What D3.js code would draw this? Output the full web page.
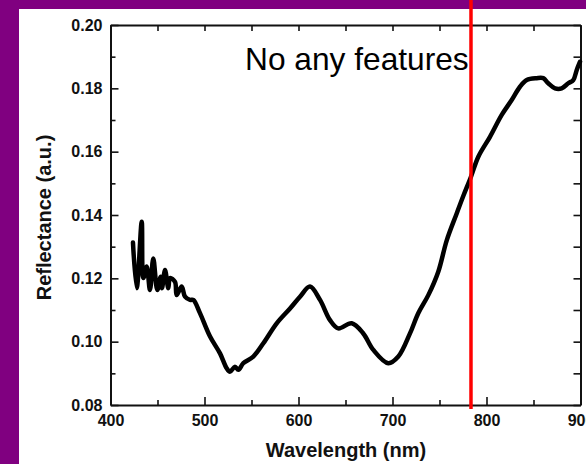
<!DOCTYPE html>
<html>
<head>
<meta charset="utf-8">
<script src="https://cdn.jsdelivr.net/npm/d3@7"></script>
<style>
  html, body { margin: 0; padding: 0; background: #800080; }
  svg { display: block; }
</style>
</head>
<body>
<svg id="chart" width="586" height="464"></svg>
<script>
// ---- data ----
const wavelength = [423.9, 427.9, 433.2, 434.9, 438.5, 442.0, 445.5, 449.8, 453.4, 454.8,
  458.0, 461.5, 463.3, 468.6, 470.4, 475.7, 479.3, 484.6, 488.1, 495.2,
  505.9, 516.5, 523.6, 527.1, 532.4, 536.0, 541.3, 551.9, 562.6, 576.8,
  591.0, 601.6, 612.2, 622.9, 633.5, 642.3, 656.6, 668.9, 679.6, 695.5,
  706.2, 718.6, 727.4, 738.1, 748.7, 757.7, 768.3, 775.3, 783.5, 791.3,
  803.7, 816.2, 826.8, 835.6, 842.8, 853.4, 860.4, 865.7, 872.9, 880.0,
  887.0, 892.3, 896.0, 899.5];
const reflectance = [0.1313, 0.1169, 0.1379, 0.1201, 0.1237, 0.1163, 0.1263, 0.1163, 0.1205, 0.1169,
  0.1226, 0.1169, 0.1201, 0.1189, 0.1147, 0.1174, 0.1142, 0.1132, 0.1132, 0.1090,
  0.1016, 0.0963, 0.0916, 0.0905, 0.0921, 0.0911, 0.0932, 0.0953, 0.0995, 0.1058,
  0.1105, 0.1142, 0.1174, 0.1132, 0.1068, 0.1042, 0.1058, 0.1026, 0.0974, 0.0932,
  0.0953, 0.1026, 0.1090, 0.1147, 0.1221, 0.1320, 0.1405, 0.1460, 0.1521, 0.1584,
  0.1647, 0.1716, 0.1763, 0.1805, 0.1826, 0.1832, 0.1832, 0.1816, 0.1800, 0.1800,
  0.1816, 0.1826, 0.1858, 0.1884];
const xTickValues = [400, 500, 600, 700, 800, 900];
const xMinorTickValues = [450, 550, 650, 750, 850];
const yTickValues = [0.08, 0.10, 0.12, 0.14, 0.16, 0.18, 0.20];
const yMinorTickValues = [0.09, 0.11, 0.13, 0.15, 0.17, 0.19];
const markerWavelength = 783.5;
const annotationText = "No any features";
const xLabel = "Wavelength (nm)";
const yLabel = "Reflectance (a.u.)";

// ---- layout ----
const W = 586, H = 464;
const plot = { left: 110.5, right: 580.5, top: 25, bottom: 405 };
const svg = d3.select("#chart");

svg.append("rect").attr("x", 0).attr("y", 0).attr("width", W).attr("height", H).attr("fill", "#800080");
svg.append("rect").attr("x", 19).attr("y", 9).attr("width", W - 19).attr("height", H - 9).attr("fill", "#ffffff");

const x = d3.scaleLinear().domain([400, 900]).range([plot.left, plot.right]);
const y = d3.scaleLinear().domain([0.08, 0.20]).range([plot.bottom, plot.top]);

const font = "'Liberation Sans', Arial, Helvetica, sans-serif";

function styleAxis(g) {
  g.selectAll("path.domain").attr("stroke", "#111").attr("stroke-width", 2);
  g.selectAll(".tick line").attr("stroke", "#111").attr("stroke-width", 1.6);
  g.selectAll(".tick text").attr("fill", "#111").attr("font-family", font)
    .attr("font-size", "16px").attr("font-weight", "bold");
}

// bottom axis
const gB = svg.append("g").attr("transform", `translate(0,${plot.bottom})`)
  .call(d3.axisBottom(x).tickValues(xTickValues).tickFormat(d3.format("d"))
    .tickSizeInner(-8).tickSizeOuter(0).tickPadding(10));
styleAxis(gB);
const gBm = svg.append("g").attr("transform", `translate(0,${plot.bottom})`)
  .call(d3.axisBottom(x).tickValues(xMinorTickValues).tickFormat("").tickSizeInner(-5).tickSizeOuter(0));
gBm.select("path.domain").remove(); styleAxis(gBm);

// top axis
const gT = svg.append("g").attr("transform", `translate(0,${plot.top})`)
  .call(d3.axisTop(x).tickValues(xTickValues.concat(xMinorTickValues)).tickFormat("")
    .tickSizeInner(-6).tickSizeOuter(0));
styleAxis(gT);

// left axis
const gL = svg.append("g").attr("transform", `translate(${plot.left},0)`)
  .call(d3.axisLeft(y).tickValues(yTickValues).tickFormat(d3.format(".2f"))
    .tickSizeInner(-8).tickSizeOuter(0).tickPadding(8));
styleAxis(gL);
const gLm = svg.append("g").attr("transform", `translate(${plot.left},0)`)
  .call(d3.axisLeft(y).tickValues(yMinorTickValues).tickFormat("").tickSizeInner(-5).tickSizeOuter(0));
gLm.select("path.domain").remove(); styleAxis(gLm);

// right axis
const gR = svg.append("g").attr("transform", `translate(${plot.right},0)`)
  .call(d3.axisRight(y).tickValues(yTickValues.concat(yMinorTickValues)).tickFormat("")
    .tickSizeInner(-7).tickSizeOuter(0));
styleAxis(gR);

// axis labels
svg.append("text").attr("x", 346).attr("y", 457).attr("text-anchor", "middle")
  .attr("font-family", font).attr("font-size", "20px").attr("font-weight", "bold")
  .attr("fill", "#111").text(xLabel);
svg.append("text").attr("transform", "translate(51,217.5) rotate(-90)").attr("text-anchor", "middle")
  .attr("font-family", font).attr("font-size", "20px").attr("font-weight", "bold")
  .attr("fill", "#111").text(yLabel);

// data line
const data = wavelength.map((w, i) => ({ w, r: reflectance[i] }));
svg.append("path").datum(data)
  .attr("d", d3.line().x(d => x(d.w)).y(d => y(d.r)).curve(d3.curveCatmullRom.alpha(0.5)))
  .attr("fill", "none").attr("stroke", "#000").attr("stroke-width", 4.5)
  .attr("stroke-linejoin", "round").attr("stroke-linecap", "round");

// annotation
svg.append("text").attr("x", 245).attr("y", 70)
  .attr("font-family", font).attr("font-size", "31.7px").attr("fill", "#000")
  .text(annotationText);

// red marker line
svg.append("line").attr("x1", x(markerWavelength)).attr("x2", x(markerWavelength))
  .attr("y1", 0).attr("y2", 409).attr("stroke", "#ff0000").attr("stroke-width", 3.5);
</script>
</body>
</html>
